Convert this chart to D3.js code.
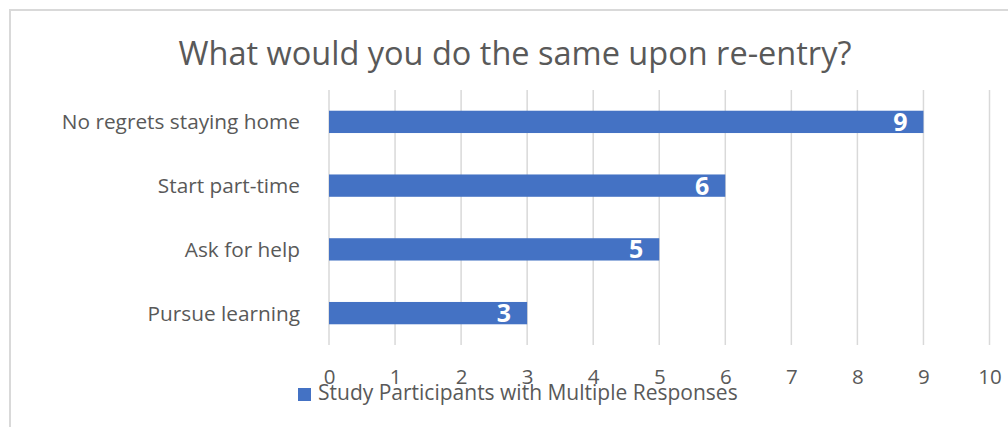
<!DOCTYPE html>
<html><head><meta charset="utf-8">
<script src="https://cdn.jsdelivr.net/npm/d3@7"></script>
<style>body{margin:0;background:#fff}svg{display:block}</style>
</head><body>
<svg id="c" width="1008" height="427"></svg>
<script>
const categories = ["No regrets staying home", "Start part-time", "Ask for help", "Pursue learning"];
const values = [9, 6, 5, 3];
const ticks = [0,1,2,3,4,5,6,7,8,9,10];
const seriesName = "Study Participants with Multiple Responses";
const title = "What would you do the same upon re-entry?";

const svg = d3.select("#c");
const font = "'Open Sans', sans-serif";
const grey = "#595959";

svg.append("rect").attr("x",10).attr("y",10).attr("width",1010).attr("height",430)
  .attr("fill","#fff").attr("stroke","#d9d9d9").attr("stroke-width",2);

const x = d3.scaleLinear().domain([0,10]).range([329,989.5]);
const y = d3.scaleBand().domain(categories).range([90,345]).paddingInner(0.65).paddingOuter(0.325);

svg.append("text").attr("x",515).attr("y",65).attr("text-anchor","middle")
  .attr("font-family",font).attr("font-size",32.5).attr("fill",grey).text(title);

const g = svg.append("g");
g.selectAll("line.grid").data(ticks).join("line").attr("class","grid")
  .attr("x1",d=>x(d)).attr("x2",d=>x(d)).attr("y1",90).attr("y2",345)
  .attr("stroke","#d9d9d9").attr("stroke-width",1.5);

const xAxis = d3.axisBottom(x).tickValues(ticks).tickSize(0).tickPadding(0);
const ax = svg.append("g").attr("transform","translate(0,384)").call(xAxis);
ax.select(".domain").remove();
ax.selectAll("text").attr("font-family",font).attr("font-size",20.5).attr("fill",grey).attr("dy",0).attr("y",0);

const yAxis = d3.axisLeft(y).tickSize(0).tickPadding(0);
const ay = svg.append("g").attr("transform","translate(300,0)").call(yAxis);
ay.select(".domain").remove();
ay.selectAll("text").attr("font-family",font).attr("font-size",20.8).attr("fill",grey).attr("dy","0.36em");

g.selectAll("rect.bar").data(values).join("rect").attr("class","bar")
  .attr("x",x(0)).attr("y",(d,i)=>y(categories[i])).attr("width",d=>x(d)-x(0))
  .attr("height",y.bandwidth()).attr("fill","#4472C4");

g.selectAll("text.val").data(values).join("text").attr("class","val")
  .attr("x",d=>x(d)-16).attr("y",(d,i)=>y(categories[i])+y.bandwidth()/2)
  .attr("dy","0.36em").attr("text-anchor","end").attr("font-family",font)
  .attr("font-weight","bold").attr("font-size",25).attr("fill","#fff").text(d=>d);

const lg = svg.append("g");
lg.append("rect").attr("x",298).attr("y",388).attr("width",13).attr("height",13).attr("fill","#4472C4");
lg.append("text").attr("x",318).attr("y",400).attr("font-family",font)
  .attr("font-size",21).attr("fill",grey).text(seriesName);
</script>
</body></html>
